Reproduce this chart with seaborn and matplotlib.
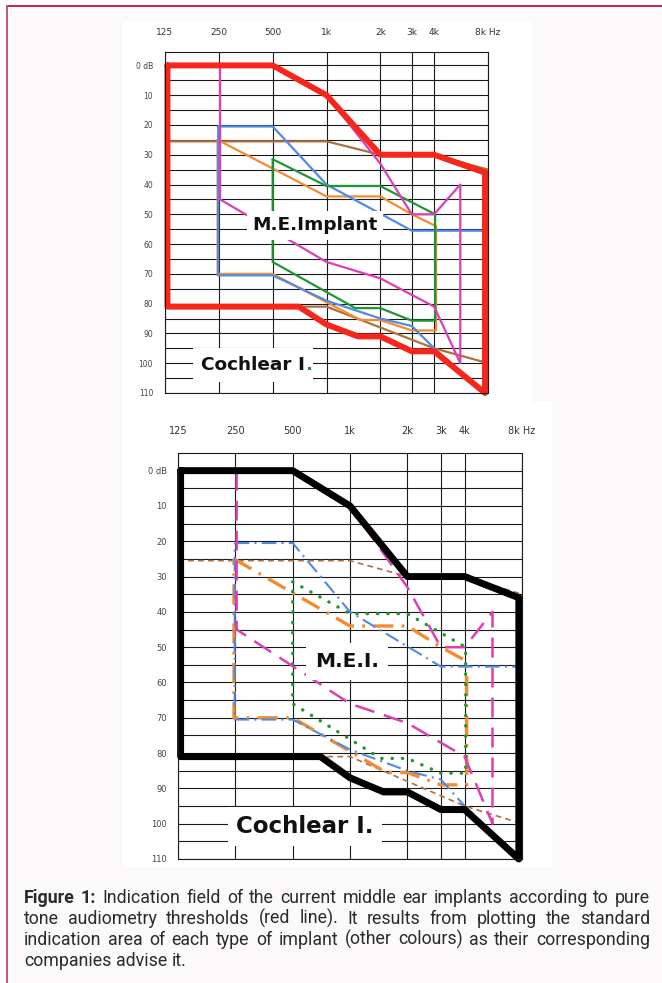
import matplotlib
matplotlib.use("Agg")
import matplotlib.pyplot as plt
import seaborn as sns
from matplotlib.patches import Rectangle
from matplotlib.lines import Line2D
from matplotlib.ticker import NullLocator
from matplotlib import font_manager

# axis values
grid_freqs = [125, 250, 500, 1000, 2000, 3000, 4000, 8000]
freq_labels = ["125", "250", "500", "1k", "2k", "3k", "4k", "8k Hz"]
db_ticks = [0, 10, 20, 30, 40, 50, 60, 70, 80, 90, 100, 110]
db_labels = ["0 dB", "10", "20", "30", "40", "50", "60", "70", "80", "90", "100", "110"]

# indication field (pure tone thresholds) - red / black line
field_freq = [129, 500, 1000, 2000, 4000, 7700, 7700, 4000, 3000, 2000, 1500, 1000, 700, 129, 129]
field_db = [0, 0, 10, 30, 30, 36, 110, 96, 96, 91, 91, 87, 81, 81, 0]

# implant areas
pink_freq = [254, 254, 1000, 2000, 4000, 5600, 5600, 4000, 3000, 2000, 1000, 500, 254]
pink_db = [0, 45, 66, 71.5, 81, 100, 40, 50, 50, 33, 10, 0, 0]

blue_freq = [248, 500, 1000, 3000, 7700, 7700, 4000, 3000, 2000, 1000, 500, 248, 248]
blue_db = [20.5, 20.5, 40, 55.5, 55.5, 110, 95, 87.5, 85, 79, 70.5, 70.5, 20.5]

orange_freq = [246, 1000, 2000, 3000, 4100, 4100, 3000, 2000, 1550, 500, 246, 246]
orange_db = [25, 44, 44, 50, 54, 89, 89, 85.5, 85.5, 70, 70, 25]

green_freq = [500, 1000, 2000, 4050, 4050, 3000, 2000, 1450, 500, 500]
green_db = [31.5, 40.5, 40.5, 50, 85.7, 85.7, 81.5, 81.5, 66, 31.5]

brown_freq = [125, 1000, 2000, 4000, 8000, 8000, 4000, 1000, 125, 125]
brown_db = [25.5, 25.5, 30, 30, 35, 100, 95, 81, 81, 25.5]

W, H = 662, 983

sns.set_style("white")
plt.rcParams["font.family"] = ["DejaVu Sans"]

names = {f.name for f in font_manager.fontManager.ttflist}
cap_font = "Liberation Sans Narrow" if "Liberation Sans Narrow" in names else "Roboto"
cap_size = 13.5 if cap_font == "Liberation Sans Narrow" else 12.8

fig = plt.figure(figsize=(W / 100, H / 100), dpi=100, facecolor="white")


def fx(x):
    return x / W


def fy(y):
    return 1 - y / H


# page background, border, white picture panels
fig.patches.append(Rectangle((fx(7), 0), 1 - fx(7), fy(6), transform=fig.transFigure,
                             fc="#fbf9fa", ec="none", zorder=-3))
fig.patches.append(Rectangle((fx(123), fy(402)), fx(532 - 123), (402 - 22) / H,
                             transform=fig.transFigure, fc="white", ec="none", zorder=-2))
fig.patches.append(Rectangle((fx(123), fy(867)), fx(552 - 123), (867 - 402) / H,
                             transform=fig.transFigure, fc="white", ec="none", zorder=-2))
fig.lines.append(Line2D([fx(7), 1], [fy(6), fy(6)], transform=fig.transFigure,
                        color="#c8204f", lw=1.4, zorder=-1))
fig.lines.append(Line2D([fx(7), fx(7)], [fy(6), 0], transform=fig.transFigure,
                        color="#c8507a", lw=1.4, zorder=-1))


def setup(ax, xpad, ypad, ytop, xsize, ysize):
    ax.set_xscale("log", base=2)
    ax.set_xlim(125, 8000)
    ax.set_ylim(110, ytop)
    ax.set_facecolor("white")
    ax.xaxis.set_ticks_position("top")
    ax.set_xticks(grid_freqs, labels=freq_labels)
    ax.xaxis.set_minor_locator(NullLocator())
    ax.set_yticks(db_ticks, labels=db_labels)
    ax.set_yticks(list(range(0, 111, 5)), minor=True)
    ax.tick_params(axis="x", length=0, pad=xpad, labelsize=xsize, labelcolor="#333333")
    ax.tick_params(axis="y", which="both", length=0, pad=ypad, labelsize=ysize, labelcolor="#444444")
    ax.grid(True, axis="x", which="major", color="#1a1a1a", lw=0.8)
    ax.grid(True, axis="y", which="both", color="#1a1a1a", lw=0.8)
    ax.set_axisbelow(True)
    for s in ax.spines.values():
        s.set_color("#1a1a1a")
        s.set_linewidth(0.8)


def draw(ax, fr, db, **kw):
    sns.lineplot(x=fr, y=db, sort=False, estimator=None, ax=ax, **kw)


# ---------------- top chart (colour lines) ----------------
ax1 = fig.add_axes([fx(165), fy(393), fx(488 - 165), (393 - 52) / H])
ax1.set_zorder(1)
setup(ax1, 10.5, 8.5, -4.5, 6.5, 5.5)
lw = 1.6
draw(ax1, brown_freq, brown_db, color="#b0703c", lw=lw)
draw(ax1, orange_freq, orange_db, color="#f28c2e", lw=lw)
draw(ax1, blue_freq, blue_db, color="#4f8ae6", lw=lw)
draw(ax1, green_freq, green_db, color="#1e9632", lw=lw)
draw(ax1, pink_freq, pink_db, color="#dc3fb5", lw=lw)
draw(ax1, field_freq, field_db, color="#f7261a", lw=4.3, solid_joinstyle="round", clip_on=False)

box = dict(boxstyle="square,pad=0.3", fc="white", ec="none")
ax1.text(863, 55.4, "M.E.Implant", fontsize=13.3, fontweight="bold", ha="center",
         va="baseline", color="#111111", bbox=box, zorder=5)
t = ax1.text(389, 102.3, "Cochlear I", fontsize=13.3, fontweight="bold", ha="center",
             va="baseline", color="#111111",
             bbox=dict(boxstyle="square,pad=0.45", fc="white", ec="none"), zorder=5)
ax1.annotate(".", xy=(1, 0), xycoords=t, ha="left", va="bottom", fontsize=13.3,
             fontweight="bold", color="#2a8a3a", zorder=6)
ax1.set_xlabel("")
ax1.set_ylabel("")

# ---------------- bottom chart (line styles) ----------------
ax2 = fig.add_axes([fx(178), fy(859), fx(522 - 178), (859 - 453) / H])
ax2.set_zorder(1)
setup(ax2, 12, 8, -5, 7, 6)
draw(ax2, brown_freq, brown_db, color="#b0703c", lw=1.2, linestyle=(0, (3.5, 2.5)))
draw(ax2, orange_freq, orange_db, color="#f28c2e", lw=2.4, linestyle=(0, (6, 2.5, 0.8, 2.5)))
draw(ax2, blue_freq, blue_db, color="#4f8ae6", lw=1.5, linestyle=(0, (7, 2.5, 1, 2.5)))
draw(ax2, green_freq, green_db, color="#1e9632", lw=2.4, linestyle=(0, (0.1, 3.0)),
     dash_capstyle="round")
draw(ax2, pink_freq, pink_db, color="#dc3fb5", lw=1.8, linestyle=(0, (8, 4)))
draw(ax2, field_freq, field_db, color="#000000", lw=5.0, solid_joinstyle="round", clip_on=False)

ax2.text(965, 55.7, "M.E.I.", fontsize=14.5, fontweight="bold", ha="center",
         va="baseline", color="#111111",
         bbox=dict(boxstyle="square,pad=0.45", fc="white", ec="none"), zorder=5)
ax2.text(582, 102.6, "Cochlear I.", fontsize=16.5, fontweight="bold", ha="center",
         va="baseline", color="#111111",
         bbox=dict(boxstyle="square,pad=0.35", fc="white", ec="none"), zorder=5)
ax2.set_xlabel("")
ax2.set_ylabel("")

# ---------------- caption (justified) ----------------
caption = [
    ("Figure 1: Indication field of the current middle ear implants according to pure", 903, False),
    ("tone audiometry thresholds (red line). It results from plotting the standard", 924, False),
    ("indication area of each type of implant (other colours) as their corresponding", 945, False),
    ("companies advise it.", 966, True),
]
renderer = fig.canvas.get_renderer()
left, right = 24, 650
probe1 = fig.text(0, 0, "a a", fontsize=cap_size, family=cap_font)
probe2 = fig.text(0, 0, "aa", fontsize=cap_size, family=cap_font)
space = probe1.get_window_extent(renderer).width - probe2.get_window_extent(renderer).width
probe1.remove()
probe2.remove()
for i, (line, y, last) in enumerate(caption):
    words = line.split(" ")
    texts = []
    for j, w in enumerate(words):
        bold = i == 0 and j < 2
        texts.append(fig.text(0, fy(y), w, fontsize=cap_size, family=cap_font,
                              fontweight="bold" if bold else "normal",
                              color="#2b2b2b", va="baseline", ha="left"))
    widths = [tt.get_window_extent(renderer).width for tt in texts]
    gap = space if last else (right - left - sum(widths)) / (len(words) - 1)
    x = left
    for tt, wd in zip(texts, widths):
        tt.set_x(fx(x))
        x += wd + gap

fig.savefig("out.png", dpi=100, facecolor=fig.get_facecolor())
